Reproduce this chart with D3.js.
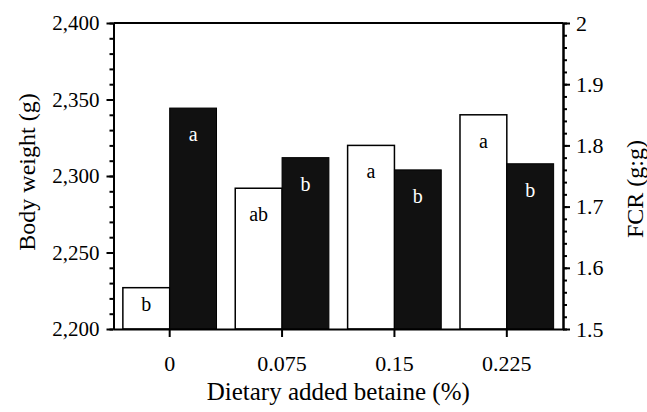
<!DOCTYPE html>
<html>
<head>
<meta charset="utf-8">
<script src="https://cdn.jsdelivr.net/npm/d3@7"></script>
<style>
  body { margin: 0; background: #fff; }
  text { font-family: "Liberation Serif", "Times New Roman", serif; fill: #000; }
</style>
</head>
<body>
<div id="chart"></div>
<script>
// data
var doses = ["0", "0.075", "0.15", "0.225"];
var bodyWeight = [2227, 2292, 2320, 2340];   // left axis, white bars
var fcr = [1.861, 1.780, 1.760, 1.770];       // right axis, black bars
var bwLetters = ["b", "ab", "a", "a"];
var fcrLetters = ["a", "b", "b", "b"];
var bwTicks = [2200, 2250, 2300, 2350, 2400];
var fcrTicks = [1.5, 1.6, 1.7, 1.8, 1.9, 2];

var W = 647, H = 412;
var margin = {top: 23, right: 84, bottom: 83, left: 113.5};
var width = W - margin.left - margin.right,
    height = H - margin.top - margin.bottom;

var svg = d3.select("#chart").append("svg")
  .attr("width", W)
  .attr("height", H)
  .append("g")
  .attr("transform", "translate(" + margin.left + "," + margin.top + ")");

var x = d3.scaleBand().domain(doses).range([0, width]).padding(0);
var x1 = d3.scaleBand().domain(["bw", "fcr"]).range([0, x.bandwidth()])
  .paddingInner(0).paddingOuter(0.2);

var yL = d3.scaleLinear().domain([2200, 2400]).range([height, 0]);
var yR = d3.scaleLinear().domain([1.5, 2]).range([height, 0]);

// white bars (body weight)
svg.selectAll(".bw")
  .data(bodyWeight)
  .enter().append("rect")
  .attr("x", function(d, i) { return x(doses[i]) + x1("bw"); })
  .attr("y", function(d) { return yL(d); })
  .attr("width", x1.bandwidth())
  .attr("height", function(d) { return height - yL(d); })
  .attr("fill", "#fff")
  .attr("stroke", "#000")
  .attr("stroke-width", 1.5);

// black bars (FCR)
svg.selectAll(".fcr")
  .data(fcr)
  .enter().append("rect")
  .attr("x", function(d, i) { return x(doses[i]) + x1("fcr"); })
  .attr("y", function(d) { return yR(d); })
  .attr("width", x1.bandwidth())
  .attr("height", function(d) { return height - yR(d); })
  .attr("fill", "#111")
  .attr("stroke", "#000")
  .attr("stroke-width", 1);

// letters in bars
function labelY(top) { return Math.min(top + 33, height - 18); }

svg.selectAll(".bwLab")
  .data(bwLetters)
  .enter().append("text")
  .attr("x", function(d, i) { return x(doses[i]) + x1("bw") + x1.bandwidth() / 2; })
  .attr("y", function(d, i) { return labelY(yL(bodyWeight[i])); })
  .attr("text-anchor", "middle")
  .style("font-size", "20px")
  .text(function(d) { return d; });

svg.selectAll(".fcrLab")
  .data(fcrLetters)
  .enter().append("text")
  .attr("x", function(d, i) { return x(doses[i]) + x1("fcr") + x1.bandwidth() / 2; })
  .attr("y", function(d, i) { return labelY(yR(fcr[i])); })
  .attr("text-anchor", "middle")
  .style("fill", "#fff")
  .style("font-size", "20px")
  .text(function(d) { return d; });

// axes
function styleAxis(g, size) {
  g.select(".domain").attr("stroke", "#000").attr("stroke-width", 2);
  g.selectAll(".tick line").attr("stroke", "#000").attr("stroke-width", 2);
  g.selectAll(".tick text").style("font-size", size).style("font-family", "Liberation Serif, Times New Roman, serif");
}

// minor ticks
svg.append("g")
  .call(d3.axisLeft(yL).tickValues(d3.range(2200, 2401, 10)).tickSize(4).tickSizeOuter(0).tickFormat(""))
  .call(function(g) { styleAxis(g, "21px"); });
svg.append("g")
  .attr("transform", "translate(" + width + ",0)")
  .call(d3.axisRight(yR).tickValues(d3.range(1.5, 2.001, 0.02)).tickSize(4).tickSizeOuter(0).tickFormat(""))
  .call(function(g) { styleAxis(g, "21px"); });

var gL = svg.append("g")
  .call(d3.axisLeft(yL).tickValues(bwTicks).tickSize(7).tickSizeOuter(0).tickPadding(7).tickFormat(d3.format(",")));
styleAxis(gL, "21px");

var gR = svg.append("g")
  .attr("transform", "translate(" + width + ",0)")
  .call(d3.axisRight(yR).tickValues(fcrTicks).tickSize(7).tickSizeOuter(0).tickPadding(6).tickFormat(d3.format("")));
styleAxis(gR, "22px");

var gB = svg.append("g")
  .attr("transform", "translate(0," + height + ")")
  .call(d3.axisBottom(x).tickSize(8).tickSizeOuter(0).tickPadding(18));
styleAxis(gB, "22px");

// top border
svg.append("line")
  .attr("x1", 0).attr("x2", width)
  .attr("y1", yL(2400)).attr("y2", yL(2400))
  .attr("stroke", "#000").attr("stroke-width", 2);

// axis titles
svg.append("text")
  .attr("transform", "translate(" + (35 - margin.left) + "," + (172 - margin.top) + ") rotate(-90)")
  .attr("text-anchor", "middle")
  .style("font-size", "24px")
  .text("Body weight (g)");

svg.append("text")
  .attr("transform", "translate(" + (643 - margin.left) + "," + (189 - margin.top) + ") rotate(-90)")
  .attr("text-anchor", "middle")
  .style("font-size", "24px")
  .text("FCR (g:g)");

svg.append("text")
  .attr("x", width / 2)
  .attr("y", 400 - margin.top)
  .attr("text-anchor", "middle")
  .style("font-size", "25px")
  .text("Dietary added betaine (%)");
</script>
</body>
</html>
